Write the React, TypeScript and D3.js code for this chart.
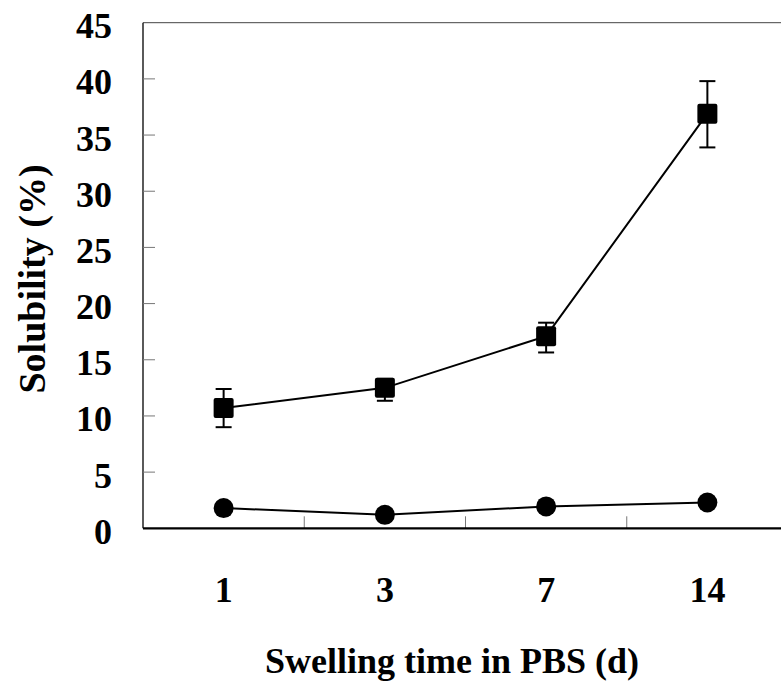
import React from "react";
import * as d3 from "d3";

const categories = ["1", "3", "7", "14"];
const squareValues = [10.7, 12.5, 17.1, 36.9];
const squareErrUp = [1.7, 0.8, 1.2, 2.9];
const squareErrDown = [1.7, 1.15, 1.45, 3.0];
const circleValues = [1.8, 1.2, 1.95, 2.3];
const yTicks = [0, 5, 10, 15, 20, 25, 30, 35, 40, 45];

const W = 781;
const H = 686;
const left = 143;
const right = 788;
const top = 22.7;
const bottom = 528.3;
const FONT = "'Liberation Serif', 'Times New Roman', serif";

export default function App() {
  const x = d3.scaleBand<string>().domain(categories).range([left, right]).padding(0);
  const y = d3.scaleLinear().domain([0, 45]).range([bottom, top]);
  const cx = (c: string) => (x(c) as number) + x.bandwidth() / 2;

  const line = d3
    .line<number>()
    .x((_, i) => cx(categories[i]))
    .y((d) => y(d));

  const boundaries = categories.slice(1).map((c) => x(c) as number);

  return (
    <svg
      width={W}
      height={H}
      style={{ position: "absolute", left: 0, top: 0, background: "#fff" }}
      fontFamily={FONT}
    >
      {/* frame */}
      <line x1={left} x2={W} y1={top} y2={top} stroke="#444" strokeWidth={1} />
      <line x1={left} x2={left} y1={top} y2={bottom} stroke="#000" strokeWidth={1.3} />
      {/* y ticks */}
      {yTicks.map((t) => (
        <g key={t}>
          {t > 0 && t < 45 && (
            <line x1={left} x2={left + 12} y1={y(t)} y2={y(t)} stroke="#777" strokeWidth={1} />
          )}
          <text
            x={112}
            y={y(t) + 15.5}
            textAnchor="end"
            fontSize={36}
            fontWeight="bold"
          >
            {t}
          </text>
        </g>
      ))}
      {/* x ticks */}
      {boundaries.map((b, i) => (
        <line key={i} x1={b} x2={b} y1={bottom} y2={bottom - 12} stroke="#777" strokeWidth={1} />
      ))}
      <line x1={left} x2={W} y1={bottom} y2={bottom} stroke="#000" strokeWidth={2.2} />
      {categories.map((c) => (
        <text key={c} x={cx(c)} y={601.5} textAnchor="middle" fontSize={36} fontWeight="bold">
          {c}
        </text>
      ))}

      {/* square series */}
      <path d={line(squareValues) || ""} fill="none" stroke="#000" strokeWidth={2} />
      {squareValues.map((v, i) => {
        const px = cx(categories[i]);
        const y1 = y(v + squareErrUp[i]);
        const y2 = y(v - squareErrDown[i]);
        return (
          <g key={i}>
            <line x1={px} x2={px} y1={y1} y2={y2} stroke="#000" strokeWidth={2} />
            <line x1={px - 8} x2={px + 8} y1={y1} y2={y1} stroke="#000" strokeWidth={2} />
            <line x1={px - 8} x2={px + 8} y1={y2} y2={y2} stroke="#000" strokeWidth={2} />
            <rect x={px - 10} y={y(v) - 10} width={20} height={20} rx={2} fill="#000" />
          </g>
        );
      })}

      {/* circle series */}
      <path d={line(circleValues) || ""} fill="none" stroke="#000" strokeWidth={2} />
      {circleValues.map((v, i) => (
        <circle key={i} cx={cx(categories[i])} cy={y(v)} r={10} fill="#000" />
      ))}

      {/* axis titles */}
      <text
        transform={`translate(45, 279) rotate(-90)`}
        textAnchor="middle"
        fontSize={38}
        fontWeight="bold"
      >
        Solubility (%)
      </text>
      <text x={452} y={673} textAnchor="middle" fontSize={36} fontWeight="bold">
        Swelling time in PBS (d)
      </text>
    </svg>
  );
}
